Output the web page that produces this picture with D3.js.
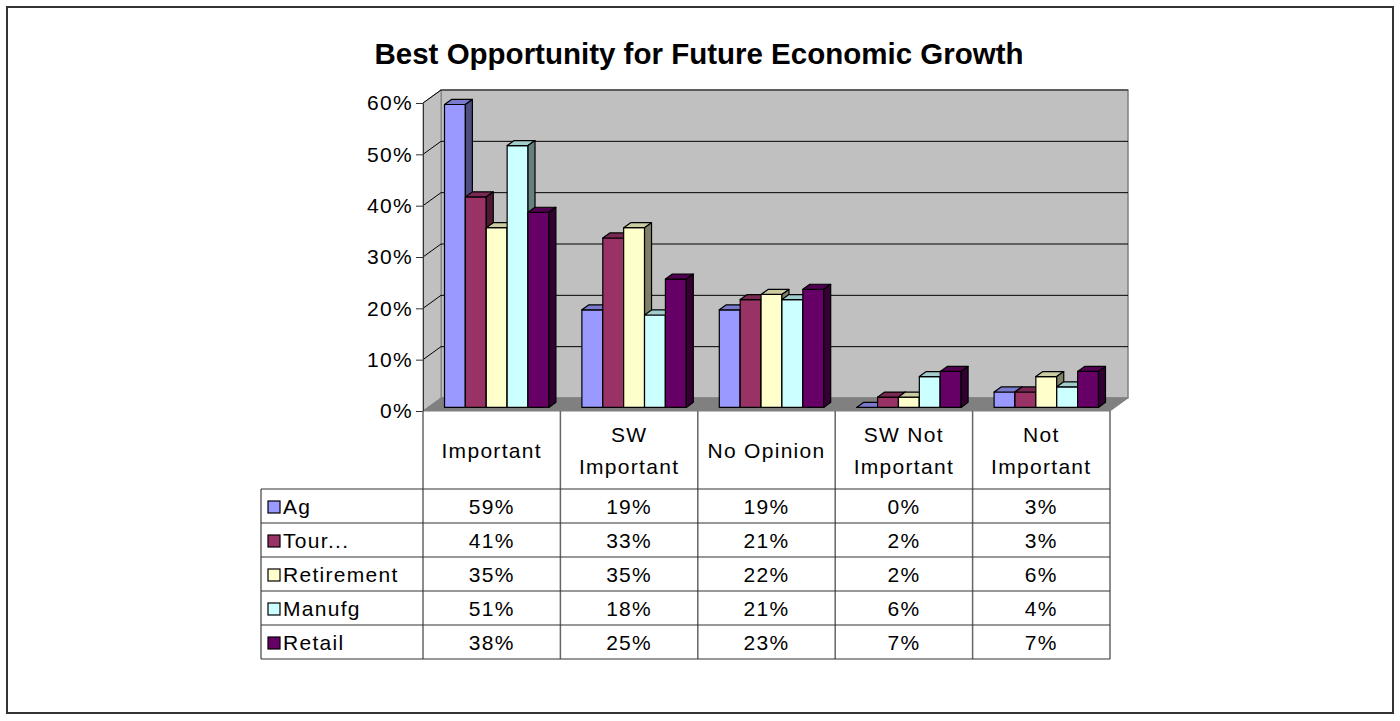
<!DOCTYPE html>
<html>
<head>
<meta charset="utf-8">
<script src="https://cdn.jsdelivr.net/npm/d3@7"></script>
<style>
  html, body { margin: 0; padding: 0; background: #fff; }
  svg { display: block; font-family: "Liberation Sans", Arial, sans-serif; }
</style>
</head>
<body>
<svg id="chart" width="1400" height="721"></svg>
<script>
// Survey categories (x axis) and the series shown in the data table
const categories = ["Important", "SW Important", "No Opinion", "SW Not Important", "Not Important"];
const categoryLines = [["Important"], ["SW", "Important"], ["No Opinion"], ["SW Not", "Important"], ["Not", "Important"]];
const seriesNames = ["Ag", "Tour...", "Retirement", "Manufg", "Retail"];
const seriesColors = ["#9999FF", "#993366", "#FFFFCC", "#CCFFFF", "#660066"];

// Percent values, one array per series, in category order
const agValues = [59, 19, 19, 0, 3];
const tourValues = [41, 33, 21, 2, 3];
const retirementValues = [35, 35, 22, 2, 6];
const manufgValues = [51, 18, 21, 6, 4];
const retailValues = [38, 25, 23, 7, 7];
const seriesValues = [agValues, tourValues, retirementValues, manufgValues, retailValues];

const yTicks = [0, 10, 20, 30, 40, 50, 60];

const svg = d3.select("#chart");
const FS = 21;        // body text size
const LS = "1.3px";   // body letter spacing

// Outer chart frame
svg.append("rect")
  .attr("x", 7).attr("y", 7).attr("width", 1386).attr("height", 706)
  .attr("fill", "#fff").attr("stroke", "#333").attr("stroke-width", 2);

// Title
svg.append("text")
  .attr("x", 699).attr("y", 64)
  .attr("text-anchor", "middle")
  .attr("font-weight", "bold").attr("font-size", 29.5)
  .text("Best Opportunity for Future Economic Growth");

// Front-plane scales plus an oblique depth offset for the 3D look
const x = d3.scaleBand().domain(categories).range([423, 1110]);
const y = d3.scaleLinear().domain([0, 60]).range([411, 103]);
const DX = 18, DY = -13;          // full depth of the plot box
const ZF = 5 / 18, ZD = 7 / 18;   // bar front offset and bar depth, as fractions of the box depth
const inner = d3.scaleBand().domain(seriesNames)
  .range([16.5, x.bandwidth() - 16.5]);

const x0 = x.range()[0], x1 = x.range()[1];
const yTop = y(60), yBase = y(0);

const poly = pts => pts.map(p => p.join(",")).join(" ");

// Back wall
svg.append("polygon")
  .attr("points", poly([[x0 + DX, yTop + DY], [x1 + DX, yTop + DY], [x1 + DX, yBase + DY], [x0 + DX, yBase + DY]]))
  .attr("fill", "#C0C0C0").attr("stroke", "#808080").attr("stroke-width", 1.5);
// Side wall
svg.append("polygon")
  .attr("points", poly([[x0, yTop], [x0 + DX, yTop + DY], [x0 + DX, yBase + DY], [x0, yBase]]))
  .attr("fill", "#C0C0C0").attr("stroke", "#808080").attr("stroke-width", 1);
// Floor
svg.append("polygon")
  .attr("points", poly([[x0, yBase], [x1, yBase], [x1 + DX, yBase + DY], [x0 + DX, yBase + DY]]))
  .attr("fill", "#808080").attr("stroke", "#808080").attr("stroke-width", 1);

// Gridlines on the back wall and side wall
const grid = svg.append("g").attr("stroke", "#000").attr("stroke-width", 1);
yTicks.filter(t => t > 0).forEach(t => {
  grid.append("line")
    .attr("x1", x0 + DX).attr("x2", x1 + DX)
    .attr("y1", y(t) + DY).attr("y2", y(t) + DY)
    .attr("stroke", t === 60 ? "#222" : "#000");
  grid.append("line")
    .attr("x1", x0).attr("x2", x0 + DX)
    .attr("y1", y(t)).attr("y2", y(t) + DY);
});

// Value axis on the front plane
const yAxis = d3.axisLeft(y).tickValues(yTicks).tickSize(7).tickSizeOuter(0)
  .tickFormat(d => d + "%");
const axisG = svg.append("g").attr("transform", `translate(${x0},0)`).call(yAxis);
axisG.select(".domain").attr("stroke", "#333");
axisG.selectAll(".tick line").attr("stroke", "#333");
axisG.selectAll(".tick text")
  .attr("font-size", FS).attr("fill", "#000")
  .attr("letter-spacing", LS)
  .attr("font-family", "Liberation Sans, Arial, sans-serif")
  .attr("dx", 0);

// 3D bars: drawn category by category, series left to right
const shade = (c, k) => { const h = d3.rgb(c); return d3.rgb(h.r * k, h.g * k, h.b * k).formatHex(); };
const bars = svg.append("g").attr("stroke", "#000").attr("stroke-width", 1.2).attr("stroke-linejoin", "round");
const fx = ZF * DX, fy = ZF * DY, bx = ZD * DX, by = ZD * DY;
categories.forEach((cat, ci) => {
  seriesNames.forEach((s, si) => {
    const v = seriesValues[si][ci];
    const L = x(cat) + inner(s) + fx;
    const R = L + inner.bandwidth();
    const B = y(0) + fy;
    const T = y(v) + fy;
    const col = seriesColors[si];
    // front face
    bars.append("polygon")
      .attr("points", poly([[L, T], [R, T], [R, B], [L, B]]))
      .attr("fill", col);
    // top face
    bars.append("polygon")
      .attr("points", poly([[L, T], [L + bx, T + by], [R + bx, T + by], [R, T]]))
      .attr("fill", shade(col, 0.8));
    // right side face
    bars.append("polygon")
      .attr("points", poly([[R, T], [R + bx, T + by], [R + bx, B + by], [R, B]]))
      .attr("fill", shade(col, 0.5));
  });
});

// Data table under the plot
const tableLeft = 261;
const headerTop = yBase, headerBottom = 489;
const rowH = 34;
const rows = seriesNames.map((s, i) => headerBottom + i * rowH);
const tableBottom = headerBottom + seriesNames.length * rowH;
const tbl = svg.append("g");
const lineCol = "#666";

// Vertical column rules
[x0, ...categories.map(c => x(c) + x.bandwidth())].forEach(xx => {
  tbl.append("line").attr("x1", xx).attr("x2", xx)
    .attr("y1", headerTop).attr("y2", tableBottom)
    .attr("stroke", lineCol).attr("stroke-width", 1.5);
});
tbl.append("line").attr("x1", tableLeft).attr("x2", tableLeft)
  .attr("y1", headerBottom).attr("y2", tableBottom)
  .attr("stroke", lineCol).attr("stroke-width", 1.5);
// Horizontal row rules
[headerBottom, ...rows.slice(1), tableBottom].forEach(yy => {
  tbl.append("line").attr("x1", tableLeft).attr("x2", x1)
    .attr("y1", yy).attr("y2", yy)
    .attr("stroke", "#333").attr("stroke-width", 1.2);
});

// Category headers
categories.forEach((cat, ci) => {
  const lines = categoryLines[ci];
  const cx = x(cat) + x.bandwidth() / 2;
  const mid = (headerTop + headerBottom) / 2;
  lines.forEach((ln, li) => {
    tbl.append("text")
      .attr("x", cx)
      .attr("y", mid + (li - (lines.length - 1) / 2) * 32 + 7.5)
      .attr("text-anchor", "middle").attr("font-size", FS)
      .attr("letter-spacing", LS)
      .text(ln);
  });
});

// Legend keys and values per series row
seriesNames.forEach((s, si) => {
  const top = rows[si];
  const cy = top + rowH / 2;
  tbl.append("rect")
    .attr("x", 268).attr("y", cy - 5).attr("width", 12).attr("height", 12)
    .attr("fill", seriesColors[si]).attr("stroke", "#000").attr("stroke-width", 1.2);
  tbl.append("text")
    .attr("x", 283).attr("y", cy + 8).attr("font-size", FS)
    .attr("letter-spacing", LS)
    .text(s);
  categories.forEach((cat, ci) => {
    tbl.append("text")
      .attr("x", x(cat) + x.bandwidth() / 2).attr("y", cy + 8)
      .attr("text-anchor", "middle").attr("font-size", FS)
      .attr("letter-spacing", LS)
      .text(seriesValues[si][ci] + "%");
  });
});
</script>
</body>
</html>
